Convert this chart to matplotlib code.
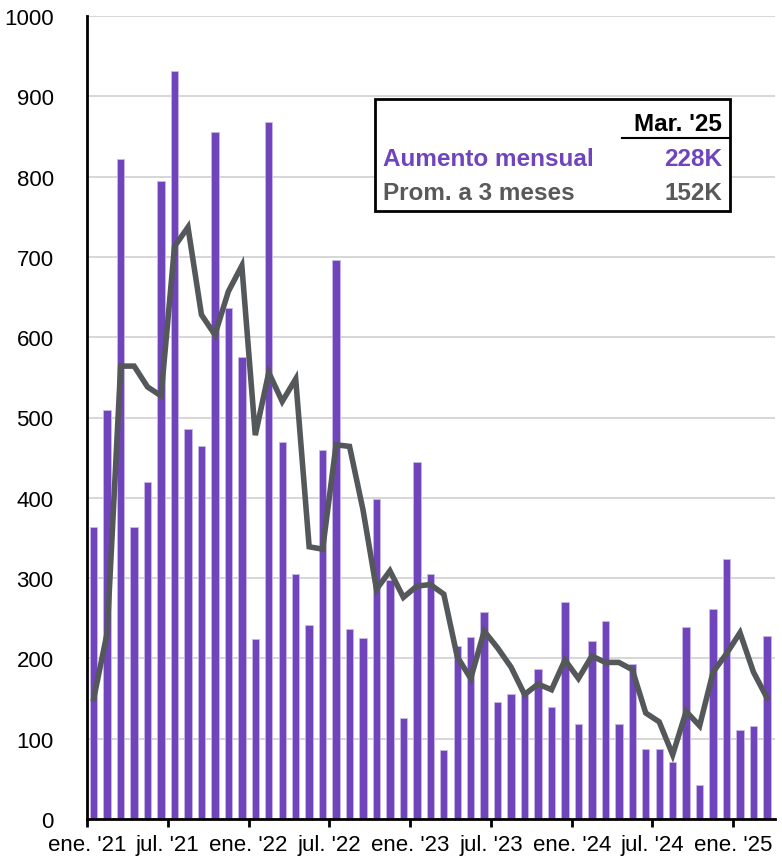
import matplotlib
matplotlib.use("Agg")
import matplotlib.pyplot as plt
import numpy as np

# monthly payroll gains, Jan '21 .. Mar '25 (thousands)
monthly = [364, 509, 822, 364, 420, 795, 932, 486, 464, 856, 636, 575,
           224, 868, 469, 305, 241, 460, 696, 236, 226, 398, 298, 126,
           444, 305, 86, 215, 227, 258, 146, 156, 160, 187, 139, 270,
           118, 222, 246, 118, 193, 87, 87, 71, 239, 42, 261, 324, 111, 116, 228]
avg3 = [150, 232, 564, 564, 538, 527, 713, 737, 628, 603, 657, 689,
        478, 556, 520, 548, 339, 336, 466, 464, 385, 286, 309, 276,
        290, 292, 280, 202, 175, 234, 213, 189, 155, 168, 161, 198,
        175, 203, 195, 195, 186, 132, 121, 80, 134, 116, 183, 206, 232, 183, 151]
tick_labels = ["ene. '21", "jul. '21", "ene. '22", "jul. '22", "ene. '23",
               "jul. '23", "ene. '24", "jul. '24", "ene. '25"]
box_header = "Mar. '25"
box_rows = [("Aumento mensual", "228K"), ("Prom. a 3 meses", "152K")]

PURPLE = '#7044BA'
GRAY = '#54585A'

plt.rcParams['font.family'] = ['Liberation Sans', 'DejaVu Sans']

W, H = 782, 862
fig = plt.figure(figsize=(W / 100, H / 100), dpi=100)
ax = fig.add_axes([87 / W, 1 - 820 / H, (775 - 87) / W, (820 - 17) / H])

x = np.arange(len(monthly))
ax.bar(x, monthly, width=0.55, color=PURPLE, edgecolor='#C9B8EA', linewidth=0.6, zorder=2)
ax.plot(x, avg3, color=GRAY, linewidth=4, solid_joinstyle='miter', zorder=3)

ax.set_xlim(-0.5, 50.6)
ax.set_ylim(0, 1000)
ax.set_yticks(np.arange(0, 1001, 100))
ax.yaxis.grid(True, color='#CCCCCC', linewidth=1.1, zorder=0)
ax.set_axisbelow(True)
ax.tick_params(axis='y', length=0, pad=24, labelsize=16)
ax.set_xticks(np.arange(-0.5, len(monthly), 6))
ax.set_xticklabels(tick_labels)
ax.tick_params(axis='x', direction='out', length=6, width=2, pad=5, labelsize=16)
for s in ['top', 'right']:
    ax.spines[s].set_visible(False)
for s in ['left', 'bottom']:
    ax.spines[s].set_linewidth(2)
    ax.spines[s].set_color('black')

# summary box
def fx(px):
    return px / W

def fy(py):
    return 1 - py / H

box = plt.Rectangle((fx(375), fy(212)), fx(730) - fx(375), fy(100) - fy(212),
                    transform=fig.transFigure, facecolor='white', edgecolor='black',
                    linewidth=2, zorder=5)
fig.patches.append(box)
fig.text(fx(722), fy(131), box_header, ha='right', va='baseline', fontsize=17.5,
         fontweight='bold', color='black', zorder=6)
fig.add_artist(plt.Line2D([fx(622), fx(730)], [fy(139), fy(139)], transform=fig.transFigure,
                          color='black', linewidth=1.5, zorder=6))
for (label, val), yy, col in zip(box_rows, [160, 193], [PURPLE, '#595959']):
    fig.text(fx(383), fy(yy), label, ha='left', va='center', fontsize=17.5,
             fontweight='bold', color=col, zorder=6)
    fig.text(fx(722), fy(yy), val, ha='right', va='center', fontsize=17.5,
             fontweight='bold', color=col, zorder=6)

fig.savefig('out.png', dpi=100)
